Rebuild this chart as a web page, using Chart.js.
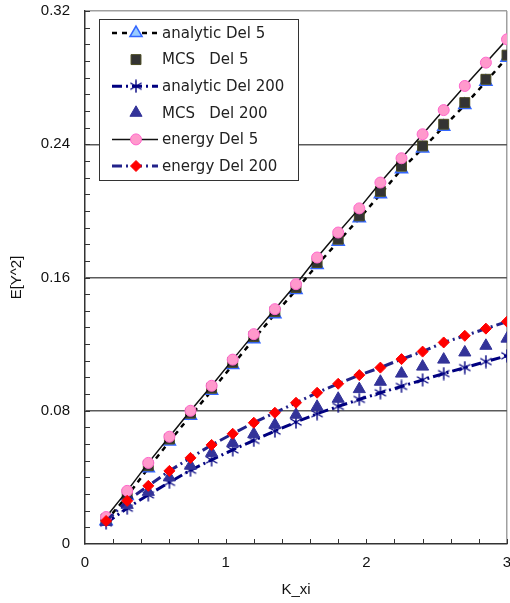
<!DOCTYPE html>
<html>
<head>
<meta charset="utf-8">
<script src="https://cdn.jsdelivr.net/npm/chart.js@4.4.0/dist/chart.umd.min.js"></script>
<style>
  html, body { margin: 0; padding: 0; background: #fff; }
</style>
</head>
<body>
<canvas id="myChart" width="510" height="603"></canvas>
<script>
// K_xi values (x axis)
const kxi = [0.15, 0.3, 0.45, 0.6, 0.75, 0.9, 1.05, 1.2, 1.35, 1.5,
             1.65, 1.8, 1.95, 2.1, 2.25, 2.4, 2.55, 2.7, 2.85, 3.0];

// E[Y^2] series
const analyticDel5 = [0.0138, 0.0288, 0.0455, 0.0615, 0.077, 0.092, 0.1075, 0.123, 0.138, 0.1525,
                      0.1675, 0.1815, 0.1955, 0.21, 0.225, 0.2375, 0.2505, 0.2635, 0.2775, 0.292];
const mcsDel5 = [0.015, 0.030, 0.047, 0.063, 0.0785, 0.0935, 0.109, 0.1245, 0.1395, 0.154,
                 0.169, 0.183, 0.197, 0.2117, 0.2268, 0.239, 0.252, 0.265, 0.279, 0.2935];
const analyticDel200 = [0.0126, 0.0215, 0.0295, 0.037, 0.0443, 0.0505, 0.0565, 0.0622, 0.0678, 0.0732,
                        0.0782, 0.0826, 0.0868, 0.0908, 0.0946, 0.0985, 0.1023, 0.1059, 0.1095, 0.113];
const mcsDel200 = [0.0132, 0.0235, 0.0313, 0.040, 0.047, 0.0547, 0.0607, 0.066, 0.0716, 0.0776,
                   0.0824, 0.0872, 0.093, 0.0974, 0.1023, 0.1065, 0.1107, 0.115, 0.119, 0.1233];
const energyDel5 = [0.0162, 0.0319, 0.0487, 0.0644, 0.080, 0.095, 0.1107, 0.126, 0.141, 0.156,
                    0.172, 0.187, 0.2015, 0.217, 0.2316, 0.246, 0.2605, 0.275, 0.289, 0.303];
const energyDel200 = [0.0138, 0.0259, 0.0349, 0.0439, 0.0517, 0.0595, 0.0662, 0.0728, 0.0788, 0.0848,
                      0.0908, 0.0962, 0.1014, 0.1059, 0.111, 0.1155, 0.121, 0.125, 0.1293, 0.1335];

const seriesLabels = ['analytic Del 5', 'MCS   Del 5', 'analytic Del 200',
                      'MCS   Del 200', 'energy Del 5', 'energy Del 200'];
const yTicks = [0, 0.08, 0.16, 0.24, 0.32];
const xTicks = [0, 1, 2, 3];

const pts = (ys) => ys.map((y, i) => ({ x: kxi[i], y: y }));

// six-spoke asterisk marker (Excel style)
const asterisk = (() => {
  const c = document.createElement('canvas');
  c.width = 14;
  c.height = 14;
  const g = c.getContext('2d');
  g.strokeStyle = '#000080';
  g.lineWidth = 1.4;
  g.beginPath();
  for (let k = 0; k < 3; k++) {
    const a = Math.PI / 2 + (k * Math.PI) / 3;
    g.moveTo(7 + Math.cos(a) * 6.5, 7 - Math.sin(a) * 6.5);
    g.lineTo(7 - Math.cos(a) * 6.5, 7 + Math.sin(a) * 6.5);
  }
  g.stroke();
  return c;
})();

// keep chart area fixed: no label overhang padding
const noPad = (scale) => {
  scale.paddingTop = 0;
  scale.paddingBottom = 0;
  scale.paddingLeft = 0;
  scale.paddingRight = 0;
};

// inward minor tick marks along both axes
const minorTicksPlugin = {
  id: 'minorTicks',
  beforeDatasetsDraw(chart) {
    const { ctx, chartArea: { left, bottom }, scales: { x, y } } = chart;
    ctx.save();
    ctx.strokeStyle = '#333';
    ctx.lineWidth = 1;
    ctx.beginPath();
    for (let i = 1; i <= 32; i++) {
      const py = Math.round(y.getPixelForValue(i / 100)) + 0.5;
      ctx.moveTo(left, py);
      ctx.lineTo(left + 5, py);
    }
    for (let i = 1; i <= 15; i++) {
      const px = Math.round(x.getPixelForValue(i * 0.2)) + 0.5;
      ctx.moveTo(px, bottom);
      ctx.lineTo(px, bottom - 5);
    }
    ctx.stroke();
    ctx.restore();
  },
};

// boxed legend with line sample + marker, like the original
const boxLegendPlugin = {
  id: 'boxLegend',
  afterDraw(chart) {
    const ctx = chart.ctx;
    ctx.save();
    ctx.fillStyle = '#fff';
    ctx.fillRect(99, 19, 199, 161);
    ctx.strokeStyle = '#333';
    ctx.lineWidth = 1;
    ctx.strokeRect(99.5, 19.5, 199, 161);

    chart.data.datasets.forEach((ds, i) => {
      const yPos = 33 + i * 26.6;
      if (ds.showLine) {
        ctx.save();
        ctx.strokeStyle = ds.borderColor;
        ctx.lineWidth = ds.borderWidth;
        ctx.setLineDash(ds.borderDash || []);
        ctx.beginPath();
        ctx.moveTo(112, yPos);
        ctx.lineTo(158, yPos);
        ctx.stroke();
        ctx.restore();
      }
      ctx.save();
      ctx.setLineDash([]);
      ctx.fillStyle = ds.pointBackgroundColor;
      ctx.strokeStyle = ds.pointBorderColor;
      ctx.lineWidth = ds.pointBorderWidth;
      Chart.helpers.drawPoint(ctx, {
        pointStyle: ds.pointStyle,
        radius: ds.pointRadius,
        borderWidth: ds.pointBorderWidth,
        rotation: 0,
      }, 136, yPos);
      ctx.restore();

      ctx.fillStyle = '#222';
      ctx.font = '15px "DejaVu Sans"';
      ctx.textBaseline = 'middle';
      ctx.fillText(ds.label, 162, yPos + 1);
    });
    ctx.restore();
  },
};

const dayData = {
  datasets: [
    {
      label: seriesLabels[0],
      data: pts(analyticDel5),
      showLine: true,
      borderColor: '#000',
      borderWidth: 2.5,
      borderDash: [5, 5],
      pointStyle: 'triangle',
      pointRadius: 7,
      pointBackgroundColor: '#99ccff',
      pointBorderColor: '#3366ff',
      pointBorderWidth: 1.5,
      order: 6,
    },
    {
      label: seriesLabels[1],
      data: pts(mcsDel5),
      showLine: false,
      borderColor: '#333',
      pointStyle: 'rect',
      pointRadius: 7,
      pointBackgroundColor: '#333333',
      pointBorderColor: '#4a4a20',
      pointBorderWidth: 1,
      order: 5,
    },
    {
      label: seriesLabels[2],
      data: pts(analyticDel200),
      showLine: true,
      borderColor: '#000080',
      borderWidth: 3,
      borderDash: [10, 4, 2, 4],
      pointStyle: asterisk,
      pointRadius: 6,
      pointBackgroundColor: '#000080',
      pointBorderColor: '#000080',
      pointBorderWidth: 1.2,
      order: 4,
    },
    {
      label: seriesLabels[3],
      data: pts(mcsDel200),
      showLine: false,
      borderColor: '#333399',
      pointStyle: 'triangle',
      pointRadius: 7,
      pointBackgroundColor: '#333399',
      pointBorderColor: '#333399',
      pointBorderWidth: 1,
      order: 3,
    },
    {
      label: seriesLabels[4],
      data: pts(energyDel5),
      showLine: true,
      borderColor: '#111',
      borderWidth: 1.5,
      borderDash: [],
      pointStyle: 'circle',
      pointRadius: 5.5,
      pointBackgroundColor: '#ff99cc',
      pointBorderColor: '#ff66cc',
      pointBorderWidth: 1,
      order: 2,
    },
    {
      label: seriesLabels[5],
      data: pts(energyDel200),
      showLine: true,
      borderColor: '#22228a',
      borderWidth: 3,
      borderDash: [10, 4, 2, 4],
      pointStyle: 'rectRot',
      pointRadius: 5.5,
      pointBackgroundColor: '#ff0000',
      pointBorderColor: '#ff0000',
      pointBorderWidth: 1,
      order: 1,
    },
  ],
};

const config = {
  type: 'scatter',
  data: dayData,
  options: {
    responsive: false,
    animation: false,
    layout: { autoPadding: false, padding: { top: 11, right: 3, left: 0, bottom: 0 } },
    plugins: {
      legend: { display: false },
      tooltip: { enabled: false },
      title: { display: false },
    },
    elements: { line: { tension: 0 } },
    scales: {
      x: {
        type: 'linear',
        min: 0,
        max: 3,
        afterBuildTicks: (scale) => { scale.ticks = xTicks.map((v) => ({ value: v })); },
        afterFit: (scale) => { scale.height = 59; noPad(scale); },
        border: { color: '#333', width: 1.5 },
        grid: {
          drawTicks: false,
          color: (c) => (c.tick && c.tick.value === 3 ? '#a0a0a0' : 'rgba(0,0,0,0)'),
          lineWidth: 1.5,
        },
        ticks: {
          padding: 10,
          color: '#111',
          font: { family: '"Liberation Sans", Arial', size: 15 },
          maxRotation: 0,
        },
        title: {
          display: true,
          text: 'K_xi',
          color: '#111',
          font: { family: '"Liberation Sans", Arial', size: 15 },
          padding: { top: 0, bottom: 4 },
        },
      },
      y: {
        type: 'linear',
        min: 0,
        max: 0.32,
        afterBuildTicks: (scale) => { scale.ticks = yTicks.map((v) => ({ value: v })); },
        afterFit: (scale) => { scale.width = 85; noPad(scale); },
        border: { color: '#333', width: 1.5 },
        grid: {
          drawTicks: false,
          color: (c) => {
            if (!c.tick) return 'rgba(0,0,0,0)';
            if (c.tick.value === 0) return 'rgba(0,0,0,0)';
            if (c.tick.value === 0.32) return '#a0a0a0';
            return '#5a5a5a';
          },
          lineWidth: 1.5,
        },
        ticks: {
          padding: 15,
          color: '#111',
          font: { family: '"Liberation Sans", Arial', size: 15 },
          callback: (v) => (v === 0 ? '0' : v.toFixed(2)),
        },
        title: {
          display: true,
          text: 'E[Y^2]',
          color: '#111',
          font: { family: '"Liberation Sans", Arial', size: 15 },
          padding: { top: 8, bottom: 0 },
        },
      },
    },
  },
  plugins: [minorTicksPlugin, boxLegendPlugin],
};

const ctx = document.getElementById('myChart');
const chart = new Chart(ctx, config);
</script>
</body>
</html>
